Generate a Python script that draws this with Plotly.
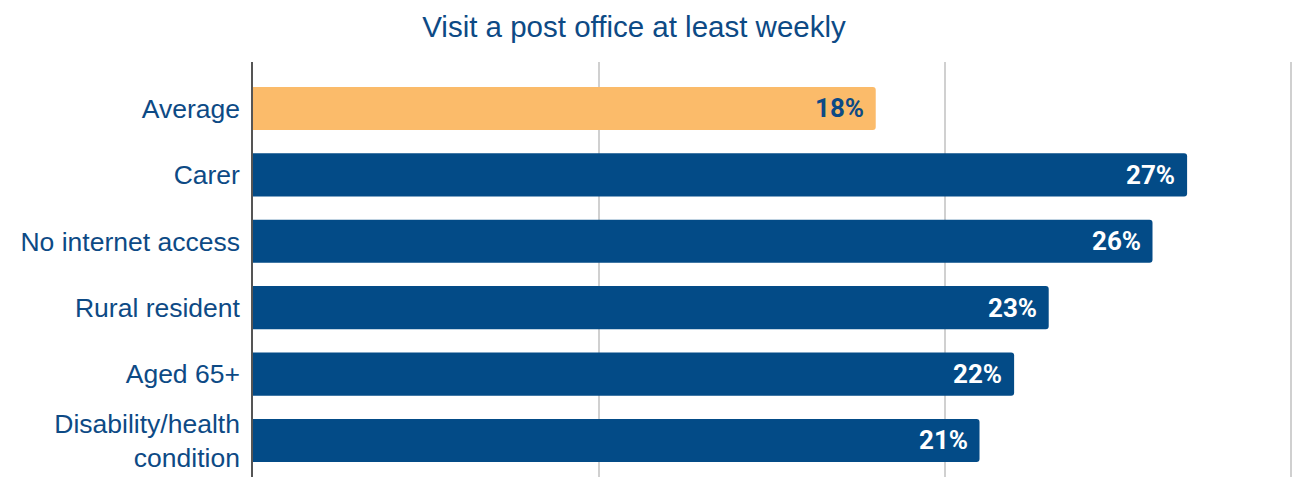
import plotly.graph_objects as go

# Share of each group that visits a post office at least weekly (%)
categories = ["Average", "Carer", "No internet access", "Rural resident",
              "Aged 65+", "Disability/health<br>condition"]
values = [18, 27, 26, 23, 22, 21]

BLUE = "#034b87"
ORANGE = "#fbbb6a"
TEXT_BLUE = "#0d4a85"

bar_colors = [ORANGE] + [BLUE] * (len(values) - 1)
label_colors = [TEXT_BLUE] + ["white"] * (len(values) - 1)

fig = go.Figure(
    go.Bar(
        x=values,
        y=categories,
        orientation="h",
        marker=dict(color=bar_colors, line=dict(width=0)),
        width=0.65,
        hoverinfo="skip",
    )
)

# Value labels just inside the end of each bar
for cat, val, col in zip(categories, values, label_colors):
    fig.add_annotation(
        x=val, y=cat, text=f"{val}%", showarrow=False,
        xanchor="right", xshift=-10,
        font=dict(family="Roboto", size=26, color=col, weight="bold"),
    )

fig.update_layout(
    width=1294, height=477,
    margin=dict(l=253, r=0, t=62, b=0),
    paper_bgcolor="white", plot_bgcolor="white",
    barcornerradius=3,
    showlegend=False,
    title=dict(
        text="Visit a post office at least weekly",
        x=634 / 1294, xanchor="center", xref="container",
        y=0.945, yanchor="middle", yref="container",
        font=dict(family="Liberation Sans", size=29.5, color=TEXT_BLUE),
    ),
    xaxis=dict(
        range=[0, 30.09], tickvals=[10, 20, 30], showticklabels=False,
        showgrid=True, gridcolor="#d0d0d0", gridwidth=1.5,
        zeroline=False, showline=False, fixedrange=True,
    ),
    yaxis=dict(
        categoryorder="array", categoryarray=categories,
        range=[5.55, -0.70],
        showline=True, linecolor="#555555", linewidth=1.5,
        showgrid=False, zeroline=False, ticks="",
        ticklabelstandoff=6,
        tickfont=dict(family="Liberation Sans", size=26.5, color=TEXT_BLUE),
    ),
)

fig.write_html("out.html")
